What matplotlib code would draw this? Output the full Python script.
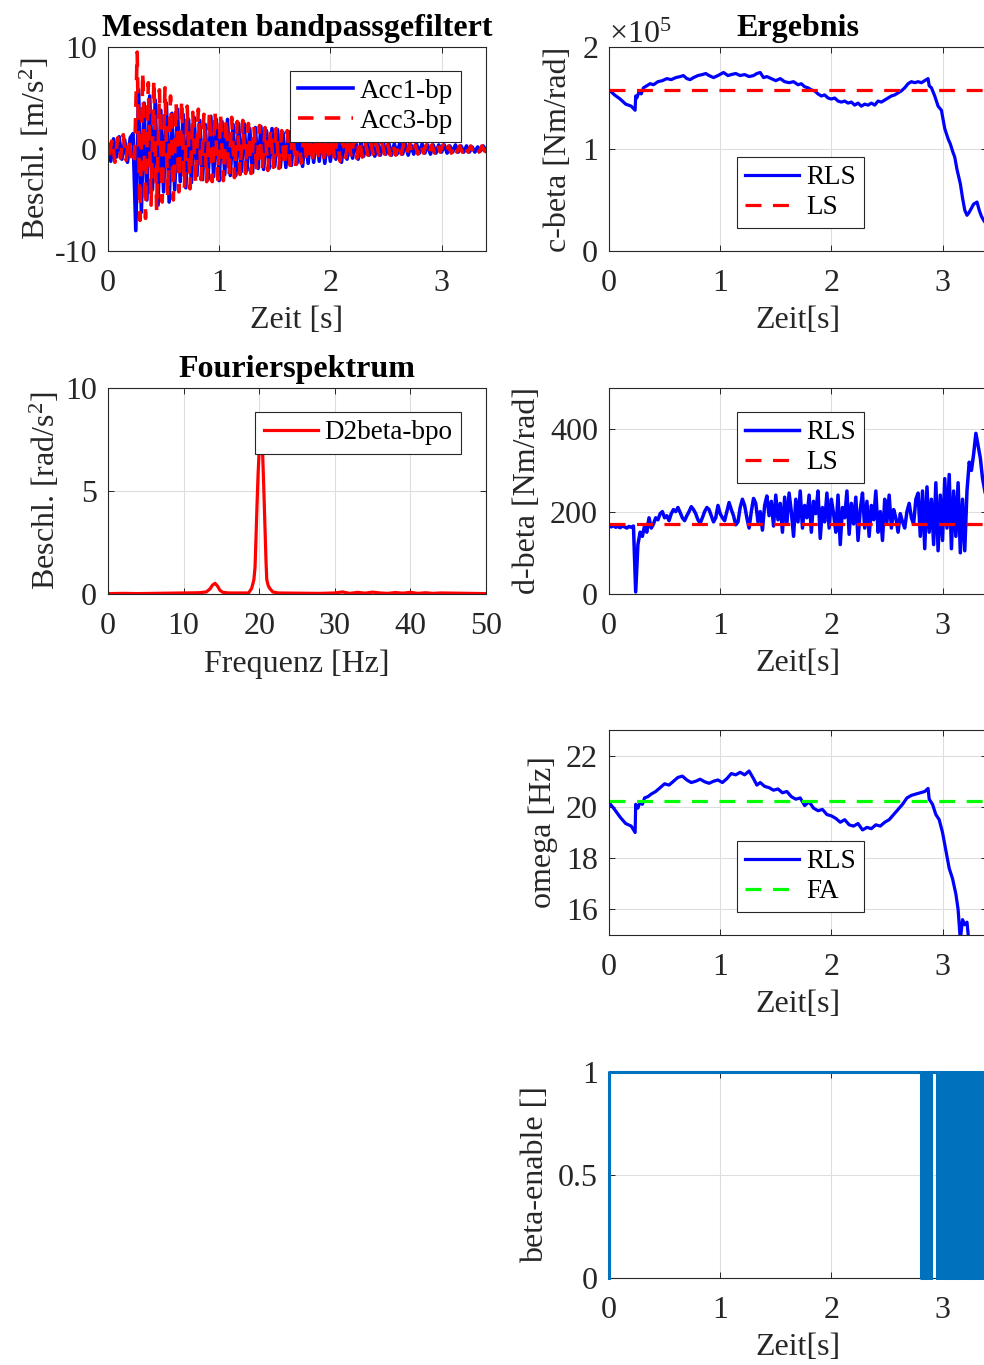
import numpy as np
import matplotlib
matplotlib.use("Agg")
import matplotlib.pyplot as plt
from matplotlib.ticker import ScalarFormatter

plt.rcParams['font.family'] = ['Liberation Serif', 'DejaVu Serif']
plt.rcParams['mathtext.fontset'] = 'custom'
plt.rcParams['mathtext.rm'] = 'Liberation Serif'
plt.rcParams['mathtext.it'] = 'Liberation Serif:italic'
plt.rcParams['axes.unicode_minus'] = False

# ---------------- data ----------------
# Acc1-bp (blue), samples every 0.025 s
acc1 = [0.5, -1.2, 1.0, -0.8, 1.2, -1.0, 0.9, -1.3, 1.1, 1.5, -8.0, 5.8, -6.2, 4.5, -5.0, 5.2, -4.0, 4.8,
        -5.5, 3.8, -4.2, 4.5, -5.2, 3.5, -4.0, 3.9, -3.2, 3.4, -3.8, 2.9, -3.3, 3.1, -2.6, 2.8, -3.0, 2.4,
        -3.0, 3.2, -2.7, 2.9, -3.1, 2.7, -2.5, 2.9, -2.6, 2.4, -2.6, 2.5, -2.2, 2.5, -2.1, 2.0, -2.3, 2.1,
        -1.9, 2.2, -2.0, 1.8, -1.9, 2.0, -1.7, 1.9, -1.8, 1.6, -1.8, 1.7,
        -1.6, 1.8, -1.4, 1.6, -1.7, 1.3, -1.4, 1.6, -1.3, 1.4, -1.2, 1.3, -1.4, 1.2, -1.2, 1.3, -1.0, 1.2,
        -1.3, 1.0, -1.0, 1.2, -0.9, 1.0, -1.0,
        0.7, -0.7, 0.8, -0.6, 0.7, -0.7, 0.6, -0.6, 0.7, -0.5, 0.6, -0.6, 0.5, -0.5, 0.6, -0.5, 0.5,
        -0.6, 0.4, -0.5, 0.5, -0.4, 0.5, -0.4, 0.4, -0.5, 0.4, -0.4, 0.4, -0.3, 0.4, -0.4, 0.3, -0.3, 0.4,
        -0.3, 0.3, -0.3, 0.3, -0.3, 0.2, -0.3, 0.2, -0.2, 0.3, -0.2]
# Acc3-bp (red), samples every 0.025 s, shifted by half a sample
acc3 = [-0.6, 1.0, -1.3, 1.1, -0.9, 1.4, -1.1, 1.0, -1.2, -1.5, 9.5, -7.0, 7.5, -6.8, 6.5, -5.5, 6.8, -6.0,
        5.8, -5.2, 6.0, -4.6, 5.2, -5.0, 4.6, -4.2, 4.8, -3.8, 4.2, -3.9, 3.6, -3.4, 3.9, -3.0, 3.4, -3.2,
        3.6, -3.2, 3.7, -3.0, 3.4, -3.1, 3.0, -2.7, 3.1, -2.8, 2.7, -2.5, 2.8, -2.4, 2.5, -2.4, 2.2, -2.1,
        2.3, -2.0, 2.1, -2.1, 1.9, -1.8, 2.0, -1.9, 1.8, -1.7, 1.8, -1.6,
        1.7, -1.7, 1.6, -1.4, 1.7, -1.3, 1.4, -1.4, 1.3, -1.2, 1.4, -1.3, 1.2, -1.2, 1.3, -1.0, 1.2, -1.2,
        1.0, -1.0, 1.2, -0.9, 1.0, -0.9, 0.9,
        -0.8, 0.7, -0.6, 0.7, -0.7, 0.6, -0.6, 0.7, -0.5, 0.6, -0.6, 0.5, -0.6, 0.5, -0.5, 0.6, -0.4,
        0.5, -0.5, 0.4, -0.5, 0.5, -0.4, 0.4, -0.5, 0.4, -0.4, 0.5, -0.3, 0.4, -0.4, 0.3, -0.4, 0.4, -0.3,
        0.3, -0.3, 0.4, -0.3, 0.3, -0.3, 0.2, -0.3, 0.3, -0.2, 0.2]
acc_dt = 0.025

# Fourier spectrum D2beta-bpo
spec_f = [0, 2, 4, 6, 8, 10, 12, 13.0, 13.5, 13.8, 14.15, 14.5, 14.8, 15.2, 16, 17.5, 18.6, 19.0, 19.3,
          19.45, 19.6, 19.7, 19.85, 20.0, 20.1, 20.25, 20.4, 20.55, 20.7, 20.8, 20.9, 21.0, 21.2, 21.4,
          21.8, 22.5, 25, 28, 30, 31, 32, 33, 34, 35, 36, 37, 38, 39, 40, 41, 42, 43, 44, 46, 48, 50]
spec_a = [0.02, 0.03, 0.02, 0.03, 0.04, 0.05, 0.06, 0.10, 0.25, 0.42, 0.52, 0.38, 0.18, 0.08, 0.05, 0.05,
          0.05, 0.27, 0.7, 1.3, 3.0, 4.2, 5.8, 7.0, 7.6, 7.0, 7.4, 5.8, 4.0, 2.8, 1.6, 0.7, 0.4, 0.27,
          0.1, 0.05, 0.04, 0.03, 0.05, 0.10, 0.03, 0.08, 0.04, 0.09, 0.05, 0.03, 0.07, 0.04, 0.08, 0.03,
          0.06, 0.03, 0.05, 0.04, 0.03, 0.02]

# c-beta RLS estimate [Nm/rad] (x1e5) and LS value
cb_t = [0, 0.05, 0.1, 0.15, 0.2, 0.235, 0.24, 0.25, 0.27, 0.29, 0.31, 0.34, 0.37, 0.40, 0.44, 0.48, 0.52,
        0.56, 0.60, 0.64, 0.67, 0.70, 0.73, 0.76, 0.80, 0.84, 0.87, 0.90, 0.94, 0.98, 1.03, 1.07, 1.10,
        1.14, 1.18, 1.22, 1.26, 1.30, 1.33, 1.36, 1.39, 1.42, 1.46, 1.50, 1.54, 1.58, 1.62, 1.66, 1.70,
        1.73, 1.76, 1.79, 1.82, 1.85, 1.88, 1.91, 1.94, 1.97, 2.00, 2.03, 2.06, 2.09, 2.12, 2.15, 2.18,
        2.21, 2.24, 2.27, 2.30, 2.33, 2.36, 2.39, 2.42, 2.45, 2.48, 2.51, 2.54, 2.57, 2.60, 2.63, 2.66,
        2.69, 2.72, 2.75, 2.78, 2.81, 2.84, 2.87, 2.88, 2.90, 2.93, 2.96, 2.99, 3.02, 3.05, 3.07, 3.09,
        3.11, 3.13, 3.16, 3.18, 3.20, 3.22, 3.24, 3.26, 3.28, 3.31, 3.33, 3.35, 3.37, 3.39, 3.42]
cb_v = [1.58, 1.53, 1.49, 1.44, 1.42, 1.38, 1.52, 1.50, 1.56, 1.54, 1.60, 1.62, 1.64, 1.63, 1.66, 1.67,
        1.69, 1.68, 1.70, 1.71, 1.72, 1.69, 1.68, 1.70, 1.72, 1.73, 1.74, 1.72, 1.70, 1.72, 1.75, 1.72,
        1.73, 1.74, 1.72, 1.73, 1.71, 1.72, 1.74, 1.75, 1.70, 1.71, 1.69, 1.67, 1.69, 1.66, 1.65, 1.66,
        1.63, 1.64, 1.61, 1.60, 1.58, 1.57, 1.54, 1.52, 1.53, 1.50, 1.49, 1.50, 1.47, 1.46, 1.47, 1.45,
        1.46, 1.43, 1.45, 1.42, 1.44, 1.43, 1.45, 1.43, 1.47, 1.46, 1.48, 1.50, 1.52, 1.53, 1.55, 1.57,
        1.60, 1.64, 1.66, 1.65, 1.66, 1.65, 1.67, 1.69, 1.62, 1.60, 1.52, 1.42, 1.38, 1.20, 1.10, 1.05,
        0.98, 0.92, 0.80, 0.66, 0.52, 0.40, 0.35, 0.38, 0.42, 0.46, 0.48, 0.40, 0.34, 0.30, 0.27, 0.25]
cb_ls = 1.58

# d-beta RLS estimate [Nm/rad], samples every 0.02 s, and LS value
db_v = [165, 163, 166, 162, 164, 161, 165, 163, 160, 164, 162, 165,
        5, 120, 150, 140, 165, 150, 185, 160, 170, 185, 180, 195, 200, 185, 190, 178, 195, 205, 200,
        210, 198, 185, 178, 190, 200, 212, 205, 195, 180, 172, 185, 200, 210, 205, 190, 175, 185, 215,
        195, 185, 178, 200, 222, 205, 190, 168, 175, 210, 230, 215, 185, 160, 200, 232, 220, 175, 200,
        155, 215, 238, 190, 225, 165, 240, 180, 220, 150, 235, 170, 245, 200, 140, 230, 175, 250, 160,
        215, 185, 240, 150, 225, 195, 250, 135, 210, 175, 245, 160, 230, 195, 150, 240, 120, 210, 185,
        250, 145, 220, 170, 235, 130, 205, 245, 160, 225, 140, 215, 180, 250, 150, 200, 130, 230, 175,
        240, 160, 205, 185, 150, 195, 175, 160, 200, 220, 185, 170, 230, 245, 140, 250, 110, 260, 150,
        230, 120, 270, 105, 240, 130, 280, 160, 290, 110, 250, 140, 270, 100, 230, 105, 250, 320, 300,
        340, 390, 360, 330, 280, 250, 230]
db_dt = 0.02
db_ls = 170

# omega RLS estimate [Hz] and FA value
om_t = [0, 0.05, 0.1, 0.15, 0.2, 0.235, 0.24, 0.26, 0.28, 0.30, 0.32, 0.35, 0.38, 0.42, 0.46, 0.50, 0.54,
        0.58, 0.62, 0.66, 0.70, 0.74, 0.78, 0.82, 0.86, 0.90, 0.94, 0.98, 1.02, 1.06, 1.10, 1.14, 1.18,
        1.22, 1.26, 1.30, 1.33, 1.36, 1.40, 1.44, 1.48, 1.52, 1.56, 1.60, 1.64, 1.68, 1.72, 1.76, 1.80,
        1.84, 1.88, 1.92, 1.96, 2.00, 2.04, 2.08, 2.12, 2.16, 2.20, 2.24, 2.28, 2.32, 2.36, 2.40, 2.44,
        2.48, 2.52, 2.56, 2.60, 2.64, 2.68, 2.72, 2.76, 2.80, 2.84, 2.87, 2.88, 2.91, 2.94, 2.97, 3.00,
        3.03, 3.06, 3.09, 3.12, 3.14, 3.16, 3.18, 3.20, 3.22, 3.24, 3.30, 3.40]
om_v = [20.17, 19.9, 19.6, 19.35, 19.25, 19.0, 20.1, 19.95, 20.2, 20.1, 20.35, 20.4, 20.5, 20.6, 20.75,
        20.9, 20.85, 21.0, 21.15, 21.2, 21.05, 20.95, 21.0, 21.08, 20.98, 20.92, 21.0, 21.05, 20.95, 21.1,
        21.3, 21.25, 21.35, 21.25, 21.4, 21.1, 20.85, 20.95, 20.8, 20.75, 20.65, 20.7, 20.55, 20.6, 20.4,
        20.3, 20.35, 20.05, 20.2, 19.95, 19.85, 19.9, 19.7, 19.65, 19.55, 19.4, 19.5, 19.3, 19.25, 19.35,
        19.1, 19.2, 19.15, 19.3, 19.25, 19.4, 19.5, 19.7, 19.9, 20.1, 20.35, 20.45, 20.5, 20.55, 20.6,
        20.72, 20.3, 20.1, 19.7, 19.5, 19.0, 18.3, 17.6, 17.2, 16.6, 16.0, 14.8, 15.6, 15.4, 15.5, 14.6,
        14.0, 13.5]
om_fa = 20.24

# beta-enable flag (switching times and states)
en_t = [0.000, 0.002, 2.810, 2.820, 2.830, 2.840, 2.850, 2.860, 2.865, 2.870, 2.898, 2.899,
        2.946, 2.95, 2.96, 2.97, 2.98, 2.99, 3.00, 3.01, 3.02, 3.03, 3.04, 3.05, 3.06, 3.07, 3.08, 3.09,
        3.10, 3.11, 3.12, 3.13, 3.14, 3.15, 3.16, 3.17, 3.18, 3.19, 3.20, 3.21, 3.22, 3.23, 3.24, 3.25,
        3.26, 3.27, 3.28, 3.29, 3.30, 3.31, 3.32, 3.33, 3.34, 3.35, 3.36, 3.37, 3.38, 3.39, 3.40, 3.41]
en_v = [0, 1, 0, 1, 0, 1, 0, 1, 0, 1, 0, 1,
        0, 1, 0, 1, 0, 1, 0, 1, 0, 1, 0, 1, 0, 1, 0, 1,
        0, 1, 0, 1, 0, 1, 0, 1, 0, 1, 0, 1, 0, 1, 0, 1,
        0, 1, 0, 1, 0, 1, 0, 1, 0, 1, 0, 1, 0, 1, 0, 1]

# ---------------- styling ----------------
FS = 23
LFS = 19.5
TXT = '#262626'
GRID = '#dedede'
W, H = 984, 1365
fig = plt.figure(figsize=(W / 100, H / 100), dpi=100)


def make_ax(left_px, top_px, bottom_px, width_px=378):
    ax = fig.add_axes([left_px / W, 1 - bottom_px / H, width_px / W, (bottom_px - top_px) / H])
    ax.tick_params(direction='in', top=True, right=True, length=4, width=0.7, colors=TXT,
                   labelsize=FS, pad=8)
    ax.tick_params(axis='x', pad=13)
    for s in ax.spines.values():
        s.set_color(TXT)
        s.set_linewidth(0.8)
    ax.grid(True, color=GRID, linewidth=0.8)
    ax.set_axisbelow(True)
    return ax


def style_legend(leg):
    fr = leg.get_frame()
    fr.set_edgecolor(TXT)
    fr.set_linewidth(0.8)
    fr.set_facecolor('white')
    fr.set_alpha(1)
    for t in leg.get_texts():
        t.set_color('black')


LEGKW = dict(fontsize=LFS, fancybox=False, borderaxespad=0, handlelength=2.0, handletextpad=0.25,
             borderpad=0.3, labelspacing=0.18, framealpha=1)
LW = 2.3
DASH = (5, 3.6)

# --- Messdaten bandpassgefiltert ---
ax1 = make_ax(108, 47, 251)
t1 = np.arange(len(acc1)) * acc_dt
t3 = np.arange(len(acc3)) * acc_dt + acc_dt / 2
ax1.plot(t1, acc1, color='blue', lw=2.6, label='Acc1-bp')
ax1.plot(t3, acc3, color='red', lw=2.6, ls='--', dashes=(4.3, 3.1), label='Acc3-bp')
ax1.set_xlim(0, 3.4)
ax1.set_ylim(-10, 10)
ax1.set_xticks([0, 1, 2, 3])
ax1.set_yticks([-10, 0, 10])
ax1.set_xlabel('Zeit [s]', fontsize=FS, color=TXT, labelpad=6)
ax1.set_ylabel('Beschl. [m/s$^2$]', fontsize=FS, color=TXT, labelpad=2)
ax1.set_title('Messdaten bandpassgefiltert', fontsize=FS, fontweight='bold', pad=8)
style_legend(ax1.legend(loc='upper right', bbox_to_anchor=(0.933, 0.884), **LEGKW))

# --- Fourierspektrum ---
ax2 = make_ax(108, 388, 594)
ax2.plot(spec_f, spec_a, color='red', lw=LW, label='D2beta-bpo')
ax2.set_xlim(0, 50)
ax2.set_ylim(0, 10)
ax2.set_xticks([0, 10, 20, 30, 40, 50])
ax2.set_yticks([0, 5, 10])
ax2.set_xlabel('Frequenz [Hz]', fontsize=FS, color=TXT, labelpad=6)
ax2.set_ylabel('Beschl. [rad/s$^2$]', fontsize=FS, color=TXT, labelpad=2)
ax2.set_title('Fourierspektrum', fontsize=FS, fontweight='bold', pad=8)
style_legend(ax2.legend(loc='upper right', bbox_to_anchor=(0.933, 0.882), **LEGKW))

# --- Ergebnis: c-beta ---
ax3 = make_ax(609, 47, 251)
ax3.plot(cb_t, np.array(cb_v) * 1e5, color='blue', lw=LW, label='RLS')
ax3.axhline(cb_ls * 1e5, color='red', lw=LW, ls='--', dashes=DASH, label='LS')
ax3.set_xlim(0, 3.4)
ax3.set_ylim(0, 2e5)
ax3.set_xticks([0, 1, 2, 3])
ax3.set_yticks([0, 1e5, 2e5])
fmt = ScalarFormatter(useMathText=True)
fmt.set_powerlimits((0, 0))
ax3.yaxis.set_major_formatter(fmt)
ax3.yaxis.get_offset_text().set_fontsize(FS)
ax3.yaxis.get_offset_text().set_color(TXT)
ax3.set_xlabel('Zeit[s]', fontsize=FS, color=TXT, labelpad=6)
ax3.set_ylabel('c-beta [Nm/rad]', fontsize=FS, color=TXT, labelpad=6)
ax3.set_title('Ergebnis', fontsize=FS, fontweight='bold', pad=8)
style_legend(ax3.legend(loc='upper left', bbox_to_anchor=(0.338, 0.459), **LEGKW))

# --- d-beta ---
ax4 = make_ax(609, 388, 594)
ax4.plot(np.arange(len(db_v)) * db_dt, db_v, color='blue', lw=2.5, label='RLS')
ax4.axhline(db_ls, color='red', lw=LW, ls='--', dashes=DASH, label='LS')
ax4.set_xlim(0, 3.4)
ax4.set_ylim(0, 500)
ax4.set_xticks([0, 1, 2, 3])
ax4.set_yticks([0, 200, 400])
ax4.set_xlabel('Zeit[s]', fontsize=FS, color=TXT, labelpad=6)
ax4.set_ylabel('d-beta [Nm/rad]', fontsize=FS, color=TXT, labelpad=6)
style_legend(ax4.legend(loc='upper left', bbox_to_anchor=(0.338, 0.882), **LEGKW))

# --- omega ---
ax5 = make_ax(609, 730, 935)
ax5.plot(om_t, om_v, color='blue', lw=LW, label='RLS')
ax5.axhline(om_fa, color=(0, 1, 0), lw=LW, ls='--', dashes=DASH, label='FA')
ax5.set_xlim(0, 3.4)
ax5.set_ylim(15, 23)
ax5.set_xticks([0, 1, 2, 3])
ax5.set_yticks([16, 18, 20, 22])
ax5.set_xlabel('Zeit[s]', fontsize=FS, color=TXT, labelpad=6)
ax5.set_ylabel('omega [Hz]', fontsize=FS, color=TXT, labelpad=6)
style_legend(ax5.legend(loc='upper left', bbox_to_anchor=(0.338, 0.4585), **LEGKW))

# --- beta-enable ---
ax6 = make_ax(609, 1072, 1278)
ax6.plot(en_t, en_v, color='#0072BD', lw=2.2, drawstyle='steps-post', clip_on=False, zorder=4)
ax6.set_xlim(0, 3.4)
ax6.set_ylim(0, 1)
ax6.set_xticks([0, 1, 2, 3])
ax6.set_yticks([0, 0.5, 1])
ax6.set_yticklabels(['0', '0.5', '1'])
ax6.set_xlabel('Zeit[s]', fontsize=FS, color=TXT, labelpad=6)
ax6.set_ylabel('beta-enable []', fontsize=FS, color=TXT, labelpad=6)

fig.savefig('out.png', dpi=100)
